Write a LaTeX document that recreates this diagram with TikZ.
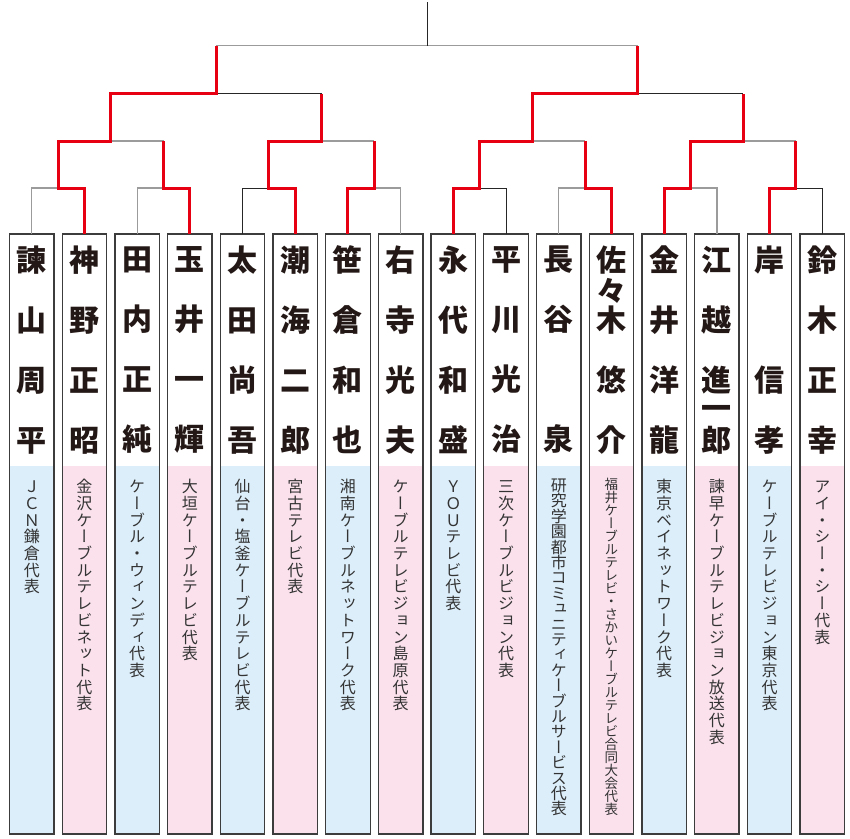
\documentclass[tikz,border=0pt]{standalone}
\usepackage{fontspec}
\newfontfamily\namefont{Noto Sans CJK JP}
\newfontfamily\subfont{Noto Sans CJK JP}[RawFeature=+vert]
\usetikzlibrary{positioning}

\definecolor{bandblue}{RGB}{220,238,250}
\definecolor{bandpink}{RGB}{250,225,236}
\definecolor{winred}{RGB}{230,0,18}
\definecolor{framegray}{RGB}{60,60,60}
\definecolor{losegray}{RGB}{155,155,155}
\definecolor{inkdark}{RGB}{35,24,21}

% vertical text, one character per slot
\newdimen\tatepitch
\newcommand\tate[2]{\vbox{\offinterlineskip\tatepitch=#1\relax\tateA#2\relax}}
\def\tateA#1{\ifx\relax#1\else\hbox to 1em{\hss\vrule height .88\tatepitch depth .12\tatepitch width 0pt\smash{#1}\hss}\expandafter\tateA\fi}
\newcommand\subline[2][16.7pt]{\vbox to 368pt{\vskip12pt\tate{#1}{#2}\vss}}

\begin{document}
\begin{tikzpicture}[x=1pt, y=-1pt, node distance=8.2pt,
    namebox/.style={anchor=north, minimum width=44.5pt, minimum height=232pt,
      inner sep=0pt, outer sep=0pt, fill=white, align=center, text=inkdark,
      font=\namefont\bfseries\fontsize{30pt}{60pt}\selectfont},
    band/.style={fill=#1, minimum width=44.5pt, inner sep=0pt, outer sep=0pt,
      text=black!80, font=\subfont\fontsize{16pt}{17pt}\selectfont},
    frame/.style={draw=framegray, line width=1.3pt},
    win/.style={draw=winred, line width=3pt},
    lose/.style={draw=losegray, line width=1.3pt},
    loseb/.style={draw=black!85, line width=0.9pt}]

  \useasboundingbox (0,0) rectangle (850,838);

  % Players
  \node[namebox] (p1) at (31.75,234) {諫\\山\\周\\平};
  \node[namebox, right=of p1] (p2) {神\\野\\正\\昭};
  \node[namebox, right=of p2] (p3) {田\\内\\正\\純};
  \node[namebox, right=of p3] (p4) {玉\\井\\一\\輝};
  \node[namebox, right=of p4] (p5) {太\\田\\尚\\吾};
  \node[namebox, right=of p5] (p6) {潮\\海\\二\\郎};
  \node[namebox, right=of p6] (p7) {笹\\倉\\和\\也};
  \node[namebox, right=of p7] (p8) {右\\寺\\光\\夫};
  \node[namebox, right=of p8] (p9) {永\\代\\和\\盛};
  \node[namebox, right=of p9] (p10) {平\\川\\光\\治};
  \node[namebox, right=of p10] (p11) {長\\谷\\[60pt]泉};
  \node[namebox, right=of p11] (p12) {佐\\[-29pt]々\\[-31pt]木\\悠\\介};
  \node[namebox, right=of p12] (p13) {金\\井\\洋\\龍};
  \node[namebox, right=of p13] (p14) {江\\越\\進\\[-32pt]一\\[-28pt]郎};
  \node[namebox, right=of p14] (p15) {岸\\[60pt]信\\孝};
  \node[namebox, right=of p15] (p16) {鈴\\木\\正\\幸};

  % Teams
  \node[band=bandblue, below=0pt of p1] (c1) {\subline{ＪＣＮ鎌倉代表}};
  \node[band=bandpink, below=0pt of p2] (c2) {\subline{金沢ケーブルテレビネット代表}};
  \node[band=bandblue, below=0pt of p3] (c3) {\subline{ケーブル・ウィンディ代表}};
  \node[band=bandpink, below=0pt of p4] (c4) {\subline{大垣ケーブルテレビ代表}};
  \node[band=bandblue, below=0pt of p5] (c5) {\subline{仙台・塩釜ケーブルテレビ代表}};
  \node[band=bandpink, below=0pt of p6] (c6) {\subline{宮古テレビ代表}};
  \node[band=bandblue, below=0pt of p7] (c7) {\subline{湘南ケーブルネットワーク代表}};
  \node[band=bandpink, below=0pt of p8] (c8) {\subline{ケーブルテレビジョン島原代表}};
  \node[band=bandblue, below=0pt of p9] (c9) {\subline{ＹＯＵテレビ代表}};
  \node[band=bandpink, below=0pt of p10] (c10) {\subline{三次ケーブルビジョン代表}};
  \node[band=bandblue, below=0pt of p11] (c11) {\subline[15.4pt]{研究学園都市コミュニティケーブルサービス代表}};
  \node[band=bandpink, below=0pt of p12, font=\subfont\fontsize{13.5pt}{14pt}\selectfont] (c12)
    {\subline[13pt]{福井ケーブルテレビ・さかいケーブルテレビ合同大会代表}};
  \node[band=bandblue, below=0pt of p13] (c13) {\subline{東京ベイネットワーク代表}};
  \node[band=bandpink, below=0pt of p14] (c14) {\subline{諫早ケーブルテレビジョン放送代表}};
  \node[band=bandblue, below=0pt of p15] (c15) {\subline{ケーブルテレビジョン東京代表}};
  \node[band=bandpink, below=0pt of p16] (c16) {\subline{アイ・シー・シー代表}};

  \foreach \i in {1,...,16}
    \draw[frame] (p\i.north west) rectangle (c\i.south east);

  % Bracket points
  \coordinate (m1) at (58.1,188);
  \coordinate (m2) at (163.5,188);
  \coordinate (m3) at (268.9,188);
  \coordinate (m4) at (374.3,188);
  \coordinate (m5) at (479.7,188);
  \coordinate (m6) at (585.1,188);
  \coordinate (m7) at (690.5,188);
  \coordinate (m8) at (795.9,188);
  \coordinate (s1) at (110.8,141);
  \coordinate (s2) at (321.6,141);
  \coordinate (s3) at (532.4,141);
  \coordinate (s4) at (743.2,141);
  \coordinate (q1) at (216.2,93.7);
  \coordinate (q2) at (637.8,93.7);
  \coordinate (f1) at (216.2,45.7);
  \coordinate (f2) at (637.8,45.7);
  \coordinate (fm) at (427,45.7);
  \coordinate (top) at (427,2);

  % Losing lines
  \draw[lose] (p1.north) |- (m1);
  \draw[lose] (p3.north) |- (m2);
  \draw[lose] (s1) -- (m2 |- s1);
  \draw[loseb] (p5.north) |- (m3);
  \draw[lose] (p8.north) |- (m4);
  \draw[lose] (s2) -- (m4 |- s2);
  \draw[loseb] (q1) -- (s2 |- q1);
  \draw[loseb] (p10.north) |- (m5);
  \draw[lose] (p11.north) |- (m6);
  \draw[lose] (s3) -- (m6 |- s3);
  \draw[lose] (p14.north) |- (m7);
  \draw[loseb] (p16.north) |- (m8);
  \draw[lose] (s4) -- (m8 |- s4);
  \draw[loseb] (q2) -- (s4 |- q2);
  \draw[lose] (f1) -- (f2);
  \draw[loseb] (top) -- (fm);

  % Winning lines
  \draw[win] (p2.north) |- (m1) |- (s1) |- (q1) -- (f1);
  \draw[win] (p4.north) |- (m2) -- (m2 |- s1);
  \draw[win] (p6.north) |- (m3) |- (s2) -- (s2 |- q1);
  \draw[win] (p7.north) |- (m4) -- (m4 |- s2);
  \draw[win] (p9.north) |- (m5) |- (s3) |- (q2) -- (f2);
  \draw[win] (p12.north) |- (m6) -- (m6 |- s3);
  \draw[win] (p13.north) |- (m7) |- (s4) -- (s4 |- q2);
  \draw[win] (p15.north) |- (m8) -- (m8 |- s4);

\end{tikzpicture}
\end{document}
